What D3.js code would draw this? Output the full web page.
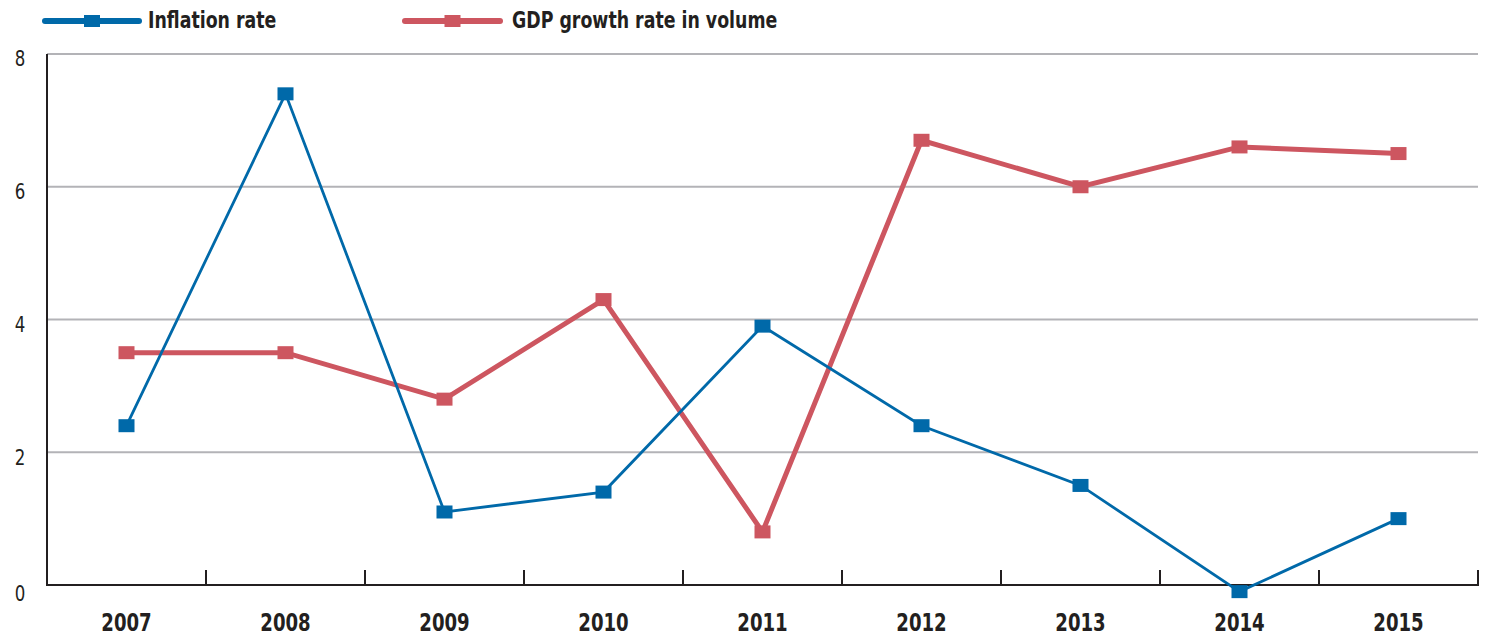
<!DOCTYPE html>
<html><head><meta charset="utf-8">
<script src="https://cdn.jsdelivr.net/npm/d3@7"></script>
<style>
body{margin:0;background:#fff;}
text{font-family:"Liberation Sans Narrow","Arial Narrow","DejaVu Sans Condensed",sans-serif;fill:#231f20;}
</style></head>
<body>
<svg id="chart" width="1488" height="637"></svg>
<script>
const years = ["2007","2008","2009","2010","2011","2012","2013","2014","2015"];
const inflation = [2.4, 7.4, 1.1, 1.4, 3.9, 2.4, 1.5, -0.1, 1.0];
const gdpGrowth = [3.5, 3.5, 2.8, 4.3, 0.8, 6.7, 6.0, 6.6, 6.5];
const yTicks = [0, 2, 4, 6, 8];
const seriesNames = ["Inflation rate", "GDP growth rate in volume"];
const colors = ["#0069a9", "#cd5660"];

(function(){
const svg = d3.select("#chart");
const pL = 47, pR = 1478, pT = 54, pB = 585;
const sx = 0.84; // horizontal condensing to mimic condensed typeface

const x = d3.scaleBand().domain(years).range([pL, pR]).padding(0);
const y = d3.scaleLinear().domain([0, 8]).range([pB, pT]);

// gridlines
svg.append("g").selectAll("line").data(yTicks.filter(d => d > 0)).join("line")
  .attr("x1", pL).attr("x2", pR)
  .attr("y1", d => y(d)).attr("y2", d => y(d))
  .attr("stroke", "#b3b3b7").attr("stroke-width", 2);

// y labels
svg.append("g").selectAll("text").data(yTicks).join("text")
  .attr("transform", d => `translate(20,${y(d) + (d === 0 ? 10 : 6)}) scale(${sx},1)`)
  .attr("text-anchor", "middle").attr("dominant-baseline", "middle")
  .attr("font-size", 22).text(d => d);

// axes
svg.append("line").attr("x1", pL).attr("x2", pL).attr("y1", pT).attr("y2", pB)
  .attr("stroke", "#231f20").attr("stroke-width", 2);
svg.append("line").attr("x1", pL - 1).attr("x2", pR + 1).attr("y1", pB).attr("y2", pB)
  .attr("stroke", "#231f20").attr("stroke-width", 2);

// ticks at band boundaries
const boundaries = years.slice(1).map(d => x(d)).concat([pR]);
svg.append("g").selectAll("line").data(boundaries).join("line")
  .attr("x1", d => d).attr("x2", d => d)
  .attr("y1", pB - 15).attr("y2", pB)
  .attr("stroke", "#231f20").attr("stroke-width", 2);

// x labels
svg.append("g").selectAll("text").data(years).join("text")
  .attr("transform", d => `translate(${x(d) + x.bandwidth() / 2},631) scale(${sx},1)`)
  .attr("text-anchor", "middle").attr("font-size", 24).attr("font-weight", "bold")
  .text(d => d);

const cx = d => x(d) + x.bandwidth() / 2;
const line = d3.line().x(d => cx(d.year)).y(d => y(d.v));

function drawSeries(vals, color, width) {
  const data = years.map((yr, i) => ({year: yr, v: vals[i]}));
  svg.append("path").datum(data).attr("d", line)
    .attr("fill", "none").attr("stroke", color).attr("stroke-width", width)
    .attr("stroke-linejoin", "miter");
  svg.append("g").selectAll("rect").data(data).join("rect")
    .attr("x", d => cx(d.year) - 8).attr("y", d => y(d.v) - 6.5)
    .attr("width", 16).attr("height", 13).attr("fill", color);
}
drawSeries(gdpGrowth, colors[1], 5);
drawSeries(inflation, colors[0], 2.8);

// legend
const legendItems = [
  {name: seriesNames[0], color: colors[0], x0: 45, x1: 139, tx: 148},
  {name: seriesNames[1], color: colors[1], x0: 405, x1: 500, tx: 512}
];
const lg = svg.append("g").selectAll("g").data(legendItems).join("g");
lg.append("line").attr("x1", d => d.x0).attr("x2", d => d.x1).attr("y1", 21).attr("y2", 21)
  .attr("stroke", d => d.color).attr("stroke-width", 6).attr("stroke-linecap", "round");
lg.append("rect").attr("x", d => (d.x0 + d.x1) / 2 - 8).attr("y", 15).attr("width", 16).attr("height", 12)
  .attr("fill", d => d.color);
lg.append("text").attr("transform", d => `translate(${d.tx},28) scale(${sx},1)`)
  .attr("font-size", 23).attr("font-weight", "bold")
  .text(d => d.name);
})();
</script>
</body></html>
